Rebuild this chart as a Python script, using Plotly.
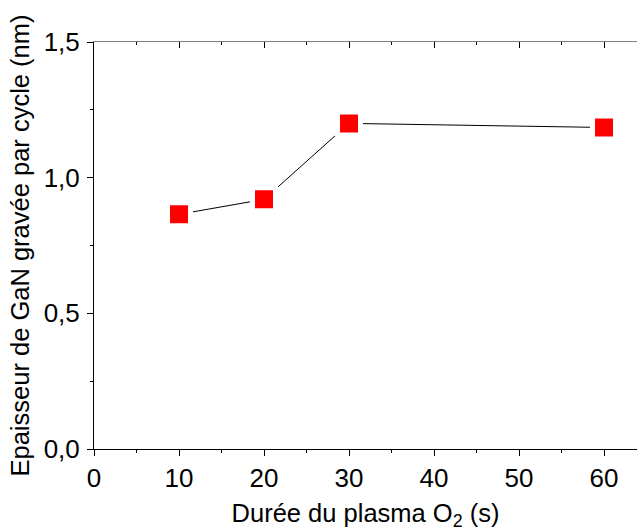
import plotly.graph_objects as go

# Durée du plasma O2 (s) vs épaisseur gravée par cycle (nm)
duree = [10, 20, 30, 60]
epaisseur = [0.865, 0.92, 1.20, 1.185]

x_ticks = [0, 10, 20, 30, 40, 50, 60]
y_ticks = [0.0, 0.5, 1.0, 1.5]

fam = "Liberation Sans, Arial, sans-serif"
font = dict(family=fam, size=26, color="black")

fig = go.Figure()
fig.add_trace(go.Scatter(
    x=duree, y=epaisseur, mode="lines+markers",
    line=dict(color="black", width=1),
    # white outline gives the Origin-style gap between line and marker
    marker=dict(symbol="square", size=23, color="#ff0000",
                line=dict(color="white", width=5)),
    showlegend=False,
))
fig.add_trace(go.Scatter(x=[0], y=[0], xaxis="x2", mode="markers",
                         marker=dict(opacity=0), showlegend=False,
                         hoverinfo="skip"))

fig.update_layout(
    width=637, height=531,
    margin=dict(l=94, r=0, t=42, b=82),
    paper_bgcolor="white", plot_bgcolor="white",
    font=font, separators=", ",
    xaxis=dict(
        range=[0, 63.88], tickvals=x_ticks, ticks="outside", ticklen=6,
        tickwidth=1, tickcolor="black", showline=True, linecolor="black",
        linewidth=1, showgrid=False, zeroline=False, automargin=False,
        minor=dict(dtick=5, ticks="outside", ticklen=3, tickcolor="black"),
        title=dict(text="Durée du plasma O<sub>2</sub> (s)", standoff=16,
                   font=dict(family=fam, size=25.5, color="black")),
    ),
    xaxis2=dict(
        overlaying="x", side="top", range=[0, 63.88], tickvals=x_ticks,
        ticks="inside", ticklen=6, tickcolor="black", showticklabels=False,
        showline=True, linecolor="#808080", showgrid=False, zeroline=False,
        automargin=False,
        minor=dict(dtick=5, ticks="inside", ticklen=3, tickcolor="black"),
    ),
    yaxis=dict(
        range=[0, 1.5], tickvals=y_ticks, tickformat=".1f", ticks="outside",
        ticklen=6, tickwidth=1, tickcolor="black", showline=True,
        linecolor="black", linewidth=1, showgrid=False, zeroline=False,
        automargin=False, ticklabelstandoff=2,
        minor=dict(dtick=0.25, ticks="outside", ticklen=3, tickcolor="black"),
        title=dict(text="Epaisseur de GaN gravée par cycle (nm)", standoff=6,
                   font=dict(family=fam, size=25.5, color="black")),
    ),
)

# drop the default body margin so the 637x531 figure fits the window exactly
fig.write_html("out.html", config={"displayModeBar": False},
               post_script="document.body.style.margin='0';")
